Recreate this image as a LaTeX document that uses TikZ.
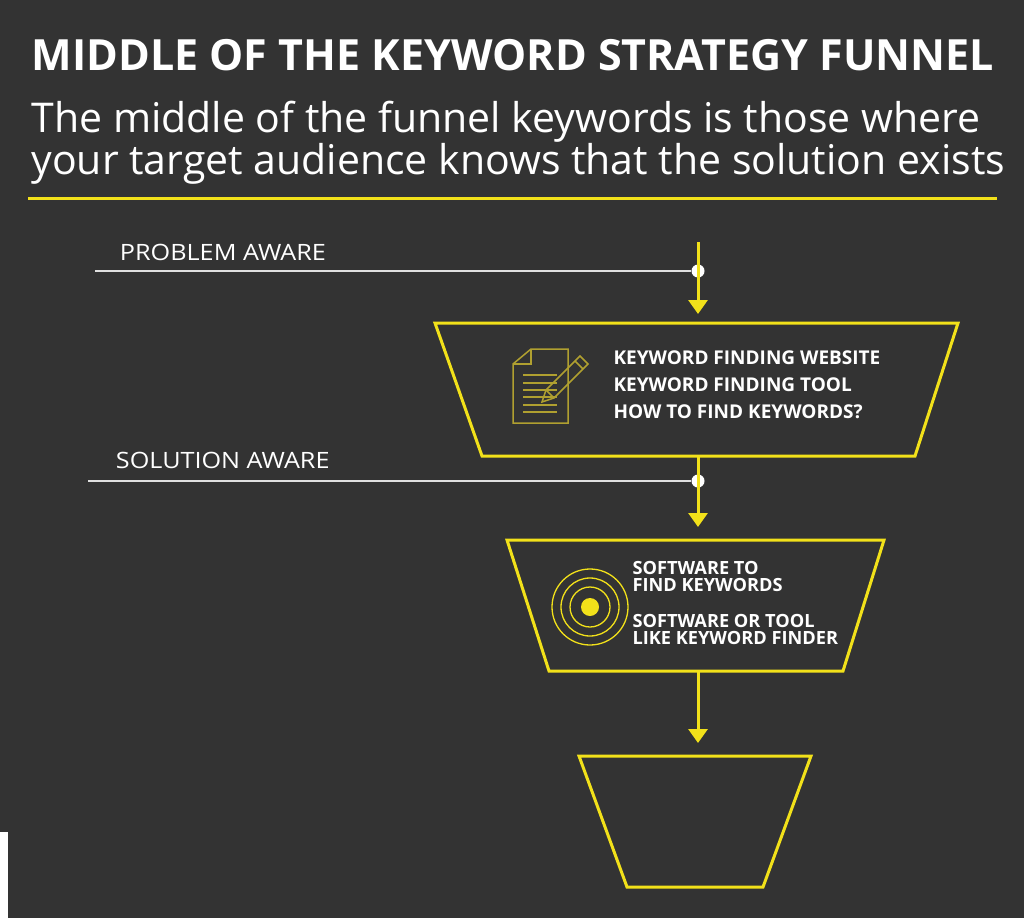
\documentclass[tikz,border=0pt]{standalone}
\usepackage{fontspec}
\setmainfont{Open Sans}
\usetikzlibrary{arrows.meta}
\definecolor{bg}{HTML}{333333}
\definecolor{yel}{HTML}{F2E11A}
\definecolor{olive}{HTML}{B0A030}
\tikzset{
 funnel/.style={draw=yel,line width=3pt},
 flow/.style={draw=yel,line width=3pt,-{Triangle[length=14pt,width=19pt]}},
 stage/.style={draw=white!85!bg,line width=1.5pt},
 lbl/.style={text=white,anchor=west,xscale=1.12,font=\fontsize{22.5}{24}\selectfont},
 kw/.style={text=white,anchor=west,align=left,font=\bfseries\fontsize{19}{27}\selectfont},
 kw2/.style={text=white,anchor=west,align=left,font=\bfseries\fontsize{18.2}{17}\selectfont},
}
\begin{document}
\begin{tikzpicture}[x=1pt,y=-1pt]
\fill[bg] (0,0) rectangle (1024,918);
\fill[white] (0,832) rectangle (8,918);
\useasboundingbox (0,0) rectangle (1024,918);
\node[text=white,font=\bfseries\fontsize{43}{44}\selectfont] (title) at (513,55) {MIDDLE OF THE KEYWORD STRATEGY FUNNEL};
\node[text=white,align=left,anchor=west,font=\fontsize{41}{36}\selectfont] (sub) at (28,143) {The middle of the funnel keywords is those where\\your target audience knows that the solution exists};
\draw[yel,line width=3pt] (28,198) -- (997,198);
% stage 1
\node[lbl,anchor=west] (pa) at (116,252) {PROBLEM AWARE};
\coordinate (pal) at (95,271);
\node[circle,fill=white,inner sep=0pt,minimum size=13pt] (d1) at (698,271) {};
\draw[stage] (pal) -- (d1);
\coordinate (a1s) at (698,242);
\coordinate (t1) at (698,314);
\draw[flow] (a1s) -- (t1);
\draw[funnel] (435,323) -- (958,323) -- (915,456) -- (482,456) -- cycle;
\node[kw] (k1) at (610,385) {KEYWORD FINDING WEBSITE\\KEYWORD FINDING TOOL\\HOW TO FIND KEYWORDS?};
% document icon
\begin{scope}[draw=olive,line width=1.5pt]
\draw (531,349) -- (568,349) -- (568,423) -- (513,423) -- (513,364) -- cycle;
\draw (531,349) -- (531,364) -- (513,364);
\foreach \y in {375,383,390,397,405,412} \draw (523,\y) -- (557,\y);
\draw (542,402) -- (546,390) -- (580,356) -- (588,364) -- (554,398) -- cycle;
\draw (546,390) -- (554,398);
\draw (575,361) -- (583,369);
\end{scope}
% stage 2
\node[lbl,anchor=west] (sa) at (112,460) {SOLUTION AWARE};
\coordinate (sal) at (88,481);
\node[circle,fill=white,inner sep=0pt,minimum size=13pt] (d2) at (698,481) {};
\draw[stage] (sal) -- (d2);
\coordinate (a2s) at (698,456);
\coordinate (t2) at (698,527);
\draw[flow] (a2s) -- (t2);
\draw[funnel] (507,540) -- (884,540) -- (843,671) -- (549,671) -- cycle;
\node[kw2] (k2) at (629,576) {SOFTWARE TO\\FIND KEYWORDS};
\node[kw2] (k3) at (629,629) {SOFTWARE OR TOOL\\LIKE KEYWORD FINDER};
\begin{scope}[draw=yel,line width=1.3pt]
\draw (590,607) circle (38);
\draw (590,607) circle (29);
\draw (590,607) circle (20);
\fill[yel] (590,607) circle (9);
\end{scope}
% stage 3
\coordinate (a3s) at (698,671);
\coordinate (t3) at (698,743);
\draw[flow] (a3s) -- (t3);
\draw[funnel] (579,756) -- (811,756) -- (763,887) -- (627,887) -- cycle;
\end{tikzpicture}
\end{document}
